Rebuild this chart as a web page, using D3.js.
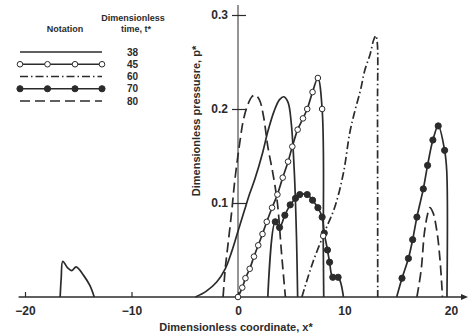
<!DOCTYPE html>
<html>
<head>
<meta charset="utf-8">
<script src="https://cdn.jsdelivr.net/npm/d3@7"></script>
<style>
	body { margin: 0; background: #fff; }
	svg { display: block; font-family: "Liberation Sans", Arial, sans-serif; font-weight: bold; }
	.curve { fill: none; stroke: #2b2b2b; stroke-width: 1.7; }
</style>
</head>
<body>
<svg id="chart" width="469" height="335"></svg>
<script>
// legend / notation
const times = ["38", "45", "60", "70", "80"];
const xTicks = [-20, -10, 0, 10, 20];
const yTicks = [0.1, 0.2, 0.3];

// series: [x*, p*]
const t38 = [[-4.0, 0], [-3.0, 0.006], [-2.0, 0.016], [-1.2, 0.03], [-0.6, 0.048], [0.0, 0.07], [0.6, 0.092],
	[1.1, 0.11], [1.6, 0.126], [2.3, 0.153], [2.8, 0.176], [3.4, 0.198], [3.9, 0.21], [4.3, 0.213],
	[4.7, 0.207], [5.0, 0.185], [5.3, 0.13], [5.5, 0.06], [5.6, 0]];
const t38small = [[-16.7, 0], [-16.6, 0.02], [-16.45, 0.038], [-16.0, 0.031], [-15.6, 0.028], [-15.2, 0.032],
	[-14.5, 0.023], [-13.9, 0.012], [-13.5, 0]];
const t45 = [[0.0, 0], [0.4, 0.01], [0.7, 0.02], [1.1, 0.03], [1.5, 0.043], [1.9, 0.055], [2.3, 0.067],
	[2.7, 0.08], [3.2, 0.095], [3.7, 0.109], [4.2, 0.127], [4.7, 0.144], [5.1, 0.16], [5.6, 0.178],
	[6.1, 0.19], [6.5, 0.2], [7.0, 0.218], [7.5, 0.233], [7.9, 0.2], [8.0, 0.065]];
const t45tail = [[8.0, 0.065], [8.05, 0]];
const t60 = [[6.0, 0], [7.0, 0.036], [8.2, 0.071], [9.1, 0.096], [9.9, 0.132], [10.5, 0.175], [11.0, 0.199],
	[11.5, 0.22], [11.9, 0.241], [12.4, 0.258], [12.75, 0.274], [12.95, 0.278], [13.08, 0.27], [13.1, 0.2], [13.12, 0]];
const t70a = [[2.8, 0], [3.5, 0.08], [3.9, 0.074], [4.4, 0.087], [4.9, 0.098], [5.4, 0.105], [5.8, 0.109],
	[6.5, 0.109], [7.0, 0.103], [7.5, 0.095], [7.9, 0.085], [8.1, 0.068], [8.4, 0.05], [8.6, 0.037],
	[8.9, 0.021], [9.4, 0.021], [9.9, 0]];
const t70b = [[14.9, 0], [15.4, 0.02], [16.0, 0.041], [16.4, 0.061], [16.8, 0.085], [17.4, 0.115], [17.8, 0.14],
	[18.3, 0.167], [18.8, 0.182], [19.4, 0.156], [19.6, 0.134], [19.62, 0]];
const t80a = [[-1.4, 0], [-1.2, 0.03], [-1.0, 0.05], [-0.6, 0.09], [-0.3, 0.124], [0.2, 0.167], [0.5, 0.188],
	[0.9, 0.204], [1.3, 0.213], [1.6, 0.215], [2.0, 0.21], [2.4, 0.192], [2.8, 0.16], [3.3, 0.13],
	[3.7, 0.1], [4.1, 0.045], [4.45, 0]];
const t80b = [[16.8, 0], [17.2, 0.029], [17.5, 0.068], [17.8, 0.088], [18.0, 0.095], [18.3, 0.09],
	[18.7, 0.068], [19.0, 0.035], [19.2, 0]];

const styles = {
	"38": { dash: null },
	"45": { dash: null, marker: "open" },
	"60": { dash: "8,3,1.5,3" },
	"70": { dash: null, marker: "filled" },
	"80": { dash: "10,5" }
};

const svg = d3.select("#chart");
const x = d3.scaleLinear().domain([-20, 20]).range([25, 451]);
const y = d3.scaleLinear().domain([0, 0.3]).range([297, 15]);
const ink = "#2b2b2b";

const line = d3.line()
	.x(d => x(d[0]))
	.y(d => y(d[1]))
	.curve(d3.curveCatmullRom.alpha(0.5));

// x axis
svg.append("line")
	.attr("x1", x(-20.6)).attr("x2", 466)
	.attr("y1", y(0)).attr("y2", y(0))
	.attr("stroke", ink).attr("stroke-width", 1.3);
svg.append("path")
	.attr("d", `M468,${y(0)} L461,${y(0) - 3} L461,${y(0) + 3} Z`)
	.attr("fill", ink);

const xAxis = svg.append("g")
	.attr("transform", `translate(0,${y(0)})`)
	.call(d3.axisBottom(x)
		.tickValues(xTicks)
		.tickSizeInner(-5)
		.tickSizeOuter(0)
		.tickPadding(9)
		.tickFormat(d => d < 0 ? "\u2212" + Math.abs(d) : d));
xAxis.select(".domain").remove();
xAxis.selectAll("line")
	.attr("stroke", ink).attr("stroke-width", 1.2)
	.filter(d => d > 0).remove();
xAxis.selectAll("text")
	.attr("fill", ink)
	.style("font-size", "12px")
	.style("font-weight", "bold")
	.style("font-family", "'Liberation Sans', Arial, sans-serif");

// y axis
svg.append("line")
	.attr("x1", x(0)).attr("x2", x(0))
	.attr("y1", y(0)).attr("y2", 5)
	.attr("stroke", ink).attr("stroke-width", 1);

const yAxis = svg.append("g")
	.attr("transform", `translate(${x(0)},0)`)
	.call(d3.axisLeft(y)
		.tickValues(yTicks)
		.tickSizeInner(6)
		.tickSizeOuter(0)
		.tickPadding(4)
		.tickFormat(d3.format(".1f")));
yAxis.select(".domain").remove();
yAxis.selectAll("line").attr("x1", 8).attr("stroke", ink).attr("stroke-width", 1.2);
yAxis.selectAll("text")
	.attr("fill", ink)
	.style("font-size", "12px")
	.style("font-weight", "bold")
	.style("font-family", "'Liberation Sans', Arial, sans-serif");

// axis titles
svg.append("text")
	.attr("x", 236).attr("y", 331)
	.attr("text-anchor", "middle")
	.attr("fill", ink)
	.style("font-size", "11px")
	.text("Dimensionless coordinate, x*");

svg.append("text")
	.attr("transform", "translate(200,121) rotate(-90)")
	.attr("text-anchor", "middle")
	.attr("fill", ink)
	.style("font-size", "11px")
	.text("Dimensionless pressusre, p*");

// curves
function drawCurve(data, key) {
	const s = styles[key];
	svg.append("path")
		.datum(data)
		.attr("class", "curve")
		.attr("stroke-dasharray", s.dash)
		.attr("d", line);
}

function drawMarkers(data, kind) {
	svg.append("g")
		.selectAll("circle")
		.data(data)
		.join("circle")
		.attr("cx", d => x(d[0]))
		.attr("cy", d => y(d[1]))
		.attr("r", kind === "open" ? 2.8 : 3.1)
		.attr("fill", kind === "open" ? "#fff" : ink)
		.attr("stroke", ink)
		.attr("stroke-width", 1);
}

drawCurve(t38, "38");
drawCurve(t38small, "38");
drawCurve(t80a, "80");
drawCurve(t80b, "80");
drawCurve(t60, "60");
drawCurve(t70a, "70");
drawCurve(t70b, "70");
drawCurve(t45, "45");
drawCurve(t45tail, "45");
drawMarkers(t70a.slice(1, -1), "filled");
drawMarkers(t70b.slice(1, -2), "filled");
drawMarkers(t45, "open");

// legend
const legend = svg.append("g");
legend.append("text")
	.attr("x", 65).attr("y", 32)
	.attr("text-anchor", "middle")
	.attr("fill", ink)
	.style("font-size", "9px")
	.text("Notation");
legend.append("text")
	.attr("x", 133).attr("y", 21)
	.attr("text-anchor", "middle")
	.attr("fill", ink)
	.style("font-size", "9px")
	.text("Dimensionless");
legend.append("text")
	.attr("x", 136).attr("y", 32)
	.attr("text-anchor", "middle")
	.attr("fill", ink)
	.style("font-size", "9px")
	.text("time, t*");

const rowY = d3.scalePoint().domain(times).range([52, 101]);
const legendX = [20, 102];
const markerX = [20, 47.5, 75, 102];

times.forEach(t => {
	const s = styles[t];
	legend.append("line")
		.attr("x1", legendX[0]).attr("x2", legendX[1])
		.attr("y1", rowY(t)).attr("y2", rowY(t))
		.attr("stroke", ink)
		.attr("stroke-width", 1.7)
		.attr("stroke-dasharray", s.dash);
	if (s.marker) {
		legend.append("g")
			.selectAll("circle")
			.data(markerX)
			.join("circle")
			.attr("cx", d => d)
			.attr("cy", rowY(t))
			.attr("r", s.marker === "open" ? 2.8 : 3.1)
			.attr("fill", s.marker === "open" ? "#fff" : ink)
			.attr("stroke", ink)
			.attr("stroke-width", 1);
	}
	legend.append("text")
		.attr("x", 127).attr("y", rowY(t))
		.attr("dy", "0.35em")
		.attr("fill", ink)
		.style("font-size", "10px")
		.text(t);
});
</script>
</body>
</html>
